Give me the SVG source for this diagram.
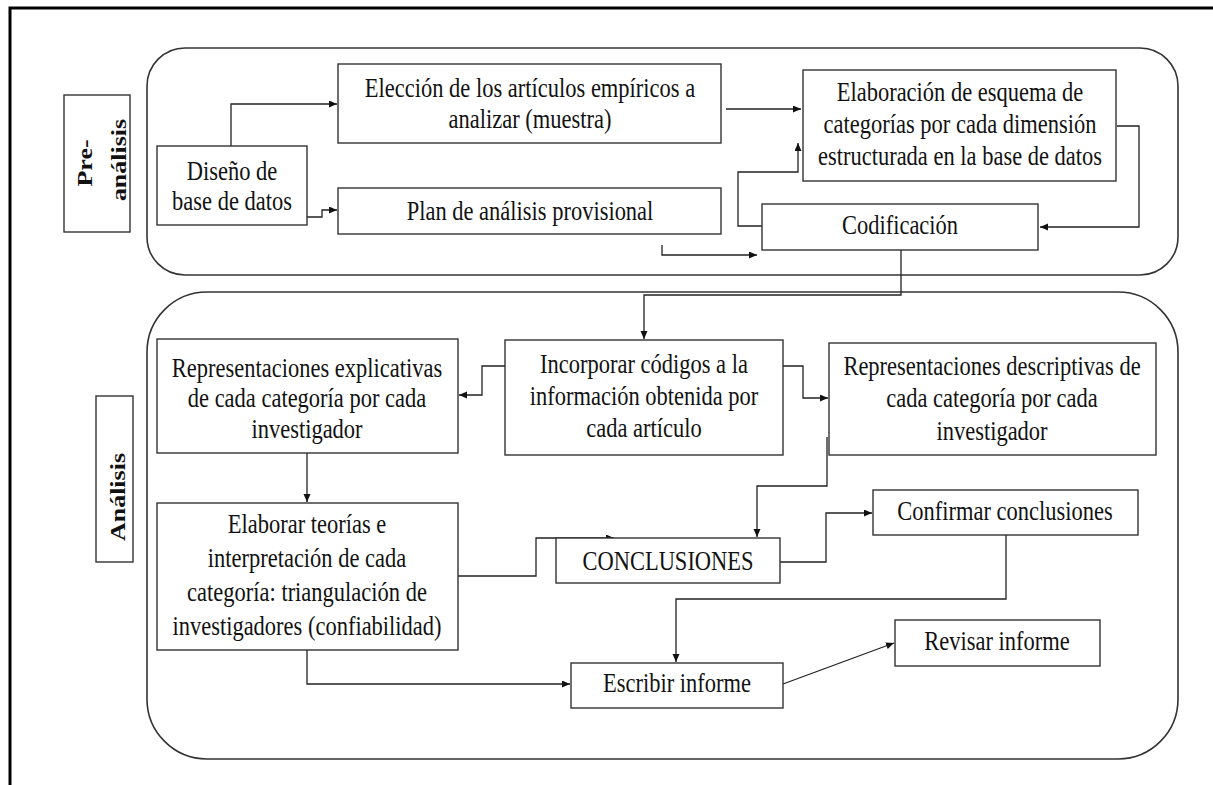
<svg xmlns="http://www.w3.org/2000/svg" width="1213" height="785" viewBox="0 0 1213 785">
<defs>
<marker id="ah" markerUnits="userSpaceOnUse" markerWidth="9" markerHeight="8" refX="8" refY="3.5" orient="auto">
<path d="M0,0 L8,3.5 L0,7 z" fill="#111"/>
</marker>
<style>
.box{fill:#fff;stroke:#333;stroke-width:1.4}
.cont{fill:none;stroke:#333;stroke-width:1.6}
.t{font-family:"Liberation Serif","Times New Roman",serif;font-size:22.5px;fill:#111;text-anchor:middle}
.lb{font-family:"Liberation Serif","Times New Roman",serif;font-size:22px;font-weight:bold;fill:#111;text-anchor:middle}
.c{fill:none;stroke:#222;stroke-width:1.3}
.ca{fill:none;stroke:#222;stroke-width:1.3;marker-end:url(#ah)}
</style>
</defs>
<rect width="1213" height="785" fill="#fff"/>
<g id="frame">
<path d="M10,785 V8 H1213" fill="none" stroke="#000" stroke-width="3"/>
</g>
<g id="containers">
<rect class="cont" x="147" y="48" width="1031" height="227" rx="38" ry="38"/>
<rect class="cont" x="147" y="292" width="1031" height="467" rx="60" ry="60"/>
</g>
<g id="label-pre">
<rect class="box" x="64" y="95" width="66" height="137"/>
<text class="lb" transform="translate(92,163) rotate(-90) scale(1.18,1)"><tspan x="0" y="0">Pre-</tspan></text>
<text class="lb" transform="translate(126,160) rotate(-90) scale(1.18,1)"><tspan x="0" y="0">análisis</tspan></text>
</g>
<g id="label-analisis">
<rect class="box" x="96" y="396" width="37" height="166"/>
<text class="lb" transform="translate(125,497) rotate(-90) scale(1.18,1)">Análisis</text>
</g>
<g id="connectors">
<path class="ca" d="M231,146 V104 H337"/>
<path class="ca" d="M307,217 H322 V210 H337"/>
<path class="ca" d="M726,109 H801"/>
<path class="ca" d="M762,226 H738 V172 H798 V143"/>
<path class="ca" d="M662,245 V255 H757"/>
<path class="ca" d="M1117,126 H1139 V227 H1040"/>
<path class="ca" d="M901,250 V295 H644 V339"/>
<path class="ca" d="M505,366 H482 V395 H459"/>
<path class="ca" d="M778,366 H803 V398 H828"/>
<path class="ca" d="M307,453 V502"/>
<path class="ca" d="M827,437 V486 H757 V537"/>
<path class="ca" d="M458,576 H536 V538 H614"/>
<path class="ca" d="M780,562 H826 V513 H872"/>
<path class="ca" d="M1006,535 V599 H676 V662"/>
<path class="ca" d="M307,650 V684 H570"/>
<path class="ca" d="M783,684 L894,643"/>
</g>
<g id="n-diseno">
<rect class="box" x="157" y="146" width="150" height="79"/>
<text class="t" transform="translate(232,180) scale(1,1.18)"><tspan x="0" y="0">Diseño de</tspan><tspan x="0" dy="25.4">base de datos</tspan></text>
</g>
<g id="n-eleccion">
<rect class="box" x="338" y="64" width="383" height="79"/>
<text class="t" transform="translate(530,97) scale(1,1.18)"><tspan x="0" y="0">Elección de los artículos empíricos a</tspan><tspan x="0" dy="26.3">analizar (muestra)</tspan></text>
</g>
<g id="n-plan">
<rect class="box" x="338" y="188" width="383" height="46"/>
<text class="t" transform="translate(530,220) scale(1,1.18)">Plan de análisis provisional</text>
</g>
<g id="n-elaboracion">
<rect class="box" x="803" y="70" width="313" height="111"/>
<text class="t" transform="translate(960,101) scale(1,1.18)"><tspan x="0" y="0">Elaboración de esquema de</tspan><tspan x="0" dy="27.1">categorías por cada dimensión</tspan><tspan x="0" dy="27.1">estructurada en la base de datos</tspan></text>
</g>
<g id="n-codificacion">
<rect class="box" x="762" y="204" width="276" height="46"/>
<text class="t" transform="translate(900,234) scale(1,1.18)">Codificación</text>
</g>
<g id="n-explicativas">
<rect class="box" x="157" y="339" width="301" height="114"/>
<text class="t" transform="translate(307,377) scale(1,1.18)"><tspan x="0" y="0">Representaciones explicativas</tspan><tspan x="0" dy="25.8">de cada categoría por cada</tspan><tspan x="0" dy="25.8">investigador</tspan></text>
</g>
<g id="n-incorporar">
<rect class="box" x="505" y="340" width="278" height="115"/>
<text class="t" transform="translate(644,373) scale(1,1.18)"><tspan x="0" y="0">Incorporar códigos a la</tspan><tspan x="0" dy="27.1">información obtenida por</tspan><tspan x="0" dy="27.1">cada artículo</tspan></text>
</g>
<g id="n-descriptivas">
<rect class="box" x="829" y="343" width="327" height="112"/>
<text class="t" transform="translate(992,375) scale(1,1.18)"><tspan x="0" y="0">Representaciones descriptivas de</tspan><tspan x="0" dy="27.5">cada categoría por cada</tspan><tspan x="0" dy="27.5">investigador</tspan></text>
</g>
<g id="n-elaborar">
<rect class="box" x="157" y="503" width="301" height="147"/>
<text class="t" transform="translate(307,533) scale(1,1.18)"><tspan x="0" y="0">Elaborar teorías e</tspan><tspan x="0" dy="28.8">interpretación de cada</tspan><tspan x="0" dy="28.8">categoría: triangulación de</tspan><tspan x="0" dy="28.8">investigadores (confiabilidad)</tspan></text>
</g>
<g id="n-conclusiones">
<rect class="box" x="556" y="538" width="224" height="45"/>
<text class="t" transform="translate(668,570) scale(1,1.18)">CONCLUSIONES</text>
</g>
<g id="n-confirmar">
<rect class="box" x="873" y="490" width="265" height="45"/>
<text class="t" transform="translate(1005,520) scale(1,1.18)">Confirmar conclusiones</text>
</g>
<g id="n-escribir">
<rect class="box" x="571" y="663" width="212" height="45"/>
<text class="t" transform="translate(677,692) scale(1,1.18)">Escribir informe</text>
</g>
<g id="n-revisar">
<rect class="box" x="895" y="620" width="205" height="46"/>
<text class="t" transform="translate(997,650) scale(1,1.18)">Revisar informe</text>
</g>
</svg>
